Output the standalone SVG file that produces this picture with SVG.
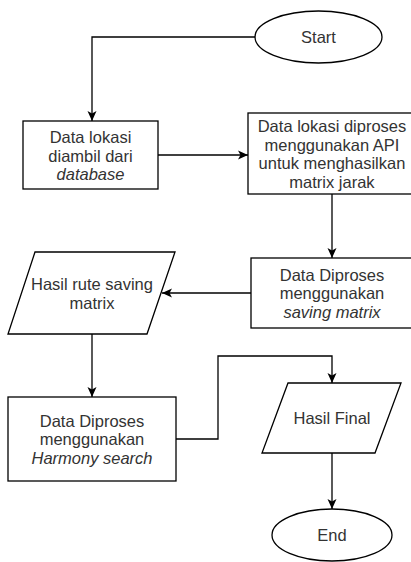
<svg xmlns="http://www.w3.org/2000/svg" width="411" height="562" viewBox="0 0 411 562">
<style>
.s{fill:#fff;stroke:#000;stroke-width:1.3}
.c{fill:none;stroke:#000;stroke-width:1.3}
text{font-family:"Liberation Sans",Arial,sans-serif;font-size:16.5px;fill:#333;text-anchor:middle}
.i{font-style:italic}
</style>
<defs>
<marker id="a" markerUnits="userSpaceOnUse" markerWidth="11" markerHeight="10" refX="10" refY="5" orient="auto">
<path d="M0,0.5 L10,5 L0,9.5 L2.5,5 Z" fill="#000"/>
</marker>
</defs>
<g id="connectors">
<path class="c" d="M256 37 H92 V121" marker-end="url(#a)"/>
<path class="c" d="M158 155 H248" marker-end="url(#a)"/>
<path class="c" d="M332 194 V258" marker-end="url(#a)"/>
<path class="c" d="M251 293 H162" marker-end="url(#a)"/>
<path class="c" d="M92 334 V397" marker-end="url(#a)"/>
<path class="c" d="M176 439 H218 V356 H332 V383" marker-end="url(#a)"/>
<path class="c" d="M332 453 V509" marker-end="url(#a)"/>
</g>
<g id="start">
<ellipse class="s" cx="318.5" cy="37" rx="63.5" ry="26"/>
<text x="318.5" y="43">Start</text>
</g>
<g id="box1">
<rect class="s" x="23" y="121" width="135" height="68"/>
<text x="90.5" y="143">Data lokasi</text>
<text x="90.5" y="161.5">diambil dari</text>
<text x="90.5" y="180" class="i">database</text>
</g>
<g id="box2">
<rect class="s" x="248" y="113" width="175" height="81"/>
<text x="332" y="132">Data lokasi diproses</text>
<text x="332" y="150.5">menggunakan API</text>
<text x="332" y="169">untuk menghasilkan</text>
<text x="332" y="187.5">matrix jarak</text>
</g>
<g id="box3">
<rect class="s" x="251" y="258" width="175" height="70"/>
<text x="332" y="280.5">Data Diproses</text>
<text x="332" y="299">menggunakan</text>
<text x="332" y="317.5" class="i">saving matrix</text>
</g>
<g id="para1">
<polygon class="s" points="35,252 175,252 147,334 8,334"/>
<text x="92" y="290">Hasil rute saving</text>
<text x="92" y="308.5">matrix</text>
</g>
<g id="box4">
<rect class="s" x="8" y="397" width="168" height="84"/>
<text x="92" y="426.5">Data Diproses</text>
<text x="92" y="445">menggunakan</text>
<text x="92" y="463.5" class="i">Harmony search</text>
</g>
<g id="para2">
<polygon class="s" points="288,383 401,383 375,453 262,453"/>
<text x="332" y="424">Hasil Final</text>
</g>
<g id="end">
<ellipse class="s" cx="332" cy="535" rx="60" ry="26"/>
<text x="332" y="541">End</text>
</g>
</svg>
